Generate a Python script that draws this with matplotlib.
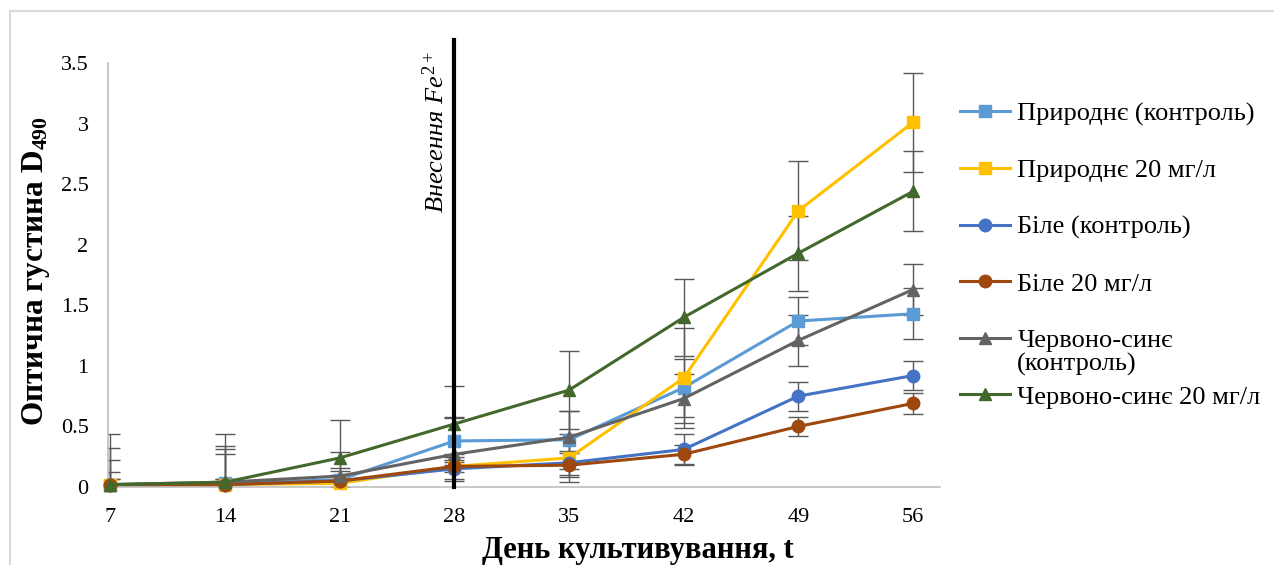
import matplotlib
matplotlib.use("Agg")
import matplotlib.pyplot as plt
from matplotlib.lines import Line2D

plt.rcParams['font.family'] = ['Liberation Serif', 'DejaVu Serif']
plt.rcParams['mathtext.fontset'] = 'custom'
plt.rcParams['mathtext.rm'] = 'Liberation Serif'
plt.rcParams['mathtext.it'] = 'Liberation Serif:italic'
plt.rcParams['mathtext.bf'] = 'Liberation Serif:bold'

days = [7, 14, 21, 28, 35, 42, 49, 56]

series_names = ["Природнє (контроль)", "Природнє 20 мг/л", "Біле (контроль)",
                "Біле 20 мг/л", "Червоно-синє (контроль)", "Червоно-синє 20 мг/л"]

pryr_ctrl = [0.02, 0.03, 0.06, 0.38, 0.39, 0.82, 1.37, 1.43]
pryr_20 = [0.02, 0.02, 0.03, 0.17, 0.24, 0.90, 2.28, 3.01]
bile_ctrl = [0.02, 0.02, 0.05, 0.15, 0.20, 0.31, 0.75, 0.92]
bile_20 = [0.02, 0.02, 0.05, 0.17, 0.18, 0.27, 0.50, 0.69]
chs_ctrl = [0.02, 0.04, 0.09, 0.27, 0.41, 0.73, 1.21, 1.63]
chs_20 = [0.02, 0.04, 0.24, 0.52, 0.80, 1.40, 1.93, 2.44]

err_pryr_ctrl = [0.10, 0.28, 0.10, 0.20, 0.24, 0.24, 0.20, 0.21]
err_pryr_20 = [0.20, 0.25, 0.10, 0.10, 0.20, 0.41, 0.41, 0.41]
err_bile_ctrl = [0.05, 0.05, 0.05, 0.10, 0.10, 0.13, 0.12, 0.12]
err_bile_20 = [0.05, 0.05, 0.05, 0.05, 0.10, 0.08, 0.08, 0.09]
err_chs_ctrl = [0.30, 0.30, 0.20, 0.30, 0.22, 0.20, 0.21, 0.21]
err_chs_20 = [0.42, 0.40, 0.31, 0.31, 0.32, 0.32, 0.31, 0.33]

values = [pryr_ctrl, pryr_20, bile_ctrl, bile_20, chs_ctrl, chs_20]
errors = [err_pryr_ctrl, err_pryr_20, err_bile_ctrl, err_bile_20, err_chs_ctrl, err_chs_20]
colors = ["#5B9BD5", "#FFC000", "#4472C4", "#9E480E", "#636363", "#43682B"]
markers = ["s", "s", "o", "o", "^", "^"]

yticks = [0, 0.5, 1, 1.5, 2, 2.5, 3, 3.5]
ytick_labels = ["0", "0.5", "1", "1.5", "2", "2.5", "3", "3.5"]

W, H = 1274, 565
fig = plt.figure(figsize=(W / 100, H / 100), dpi=100)
ax = fig.add_axes([108 / W, 1 - 487 / H, (940 - 108) / W, (487 - 63) / H])

handles = []
for v, e in zip(values, errors):
    ax.errorbar(days, v, yerr=e, fmt='none', ecolor="#595959", elinewidth=1.0,
                capsize=7, capthick=1.0, zorder=2, clip_on=True)
for v, c, m, name in zip(values, colors, markers, series_names):
    ln, = ax.plot(days, v, color=c, marker=m, markersize=9, linewidth=2.2,
                  label=name, zorder=3, clip_on=False)
    handles.append(ln)

ax.set_xlim(6.85, 57.65)
ax.set_ylim(0, 3.5)
ax.set_xticks(days)
ax.set_xticklabels([str(d) for d in days])
ax.set_yticks(yticks)
ax.set_yticklabels(ytick_labels)
ax.tick_params(axis='both', length=0, labelsize=16, colors='black')
ax.tick_params(axis='x', pad=15)
ax.tick_params(axis='y', pad=14)
for s in ['top', 'right']:
    ax.spines[s].set_visible(False)
for s in ['left', 'bottom']:
    ax.spines[s].set_color('#BFBFBF')
    ax.spines[s].set_linewidth(1.2)

# Fe2+ addition marker
ax.plot([28, 28], [0, 3.69], color='black', linewidth=3, clip_on=False, zorder=4)
ax.text(26.85, 2.26, "Внесення $Fe^{2+}$", rotation=90, fontsize=19, style='italic',
        ha='center', va='bottom', zorder=5)

ax.set_ylabel("Оптична густина D$_{\\mathbf{490}}$", fontsize=22.5, fontweight='bold')
ax.yaxis.set_label_coords((52 - 108) / 832, (487 - 271) / 424)
ax.set_xlabel("День культивування, t", fontsize=22, fontweight='bold')
ax.xaxis.set_label_coords((638 - 108) / 832, (487 - 536) / 424)

# legend: two-line label for the grey series is drawn as first line + continuation text
leg_labels = [n.replace(" (контроль)", "") if n.startswith("Червоно") else n
              for n in series_names]
leg = fig.legend(handles=handles, labels=leg_labels, loc='upper left',
                 bbox_to_anchor=(960 / W, 1 - 102 / H), frameon=False, fontsize=19,
                 handlelength=1.9, handletextpad=0.27, labelspacing=1.25,
                 borderaxespad=0, borderpad=0)

fig.canvas.draw()
t = leg.get_texts()[4]
bb = t.get_window_extent()
fig.text(bb.x0 / W, (bb.y0 + bb.y1) / 2 / H - 23 / H, "(контроль)", fontsize=19,
         ha='left', va='center')

# chart border (top and left visible)
fig.add_artist(Line2D([10 / W, 10 / W], [0, 1 - 11 / H], color='#D9D9D9', linewidth=1.5))
fig.add_artist(Line2D([10 / W, 1], [1 - 11 / H, 1 - 11 / H], color='#D9D9D9', linewidth=1.5))

fig.savefig("out.png", dpi=100)
